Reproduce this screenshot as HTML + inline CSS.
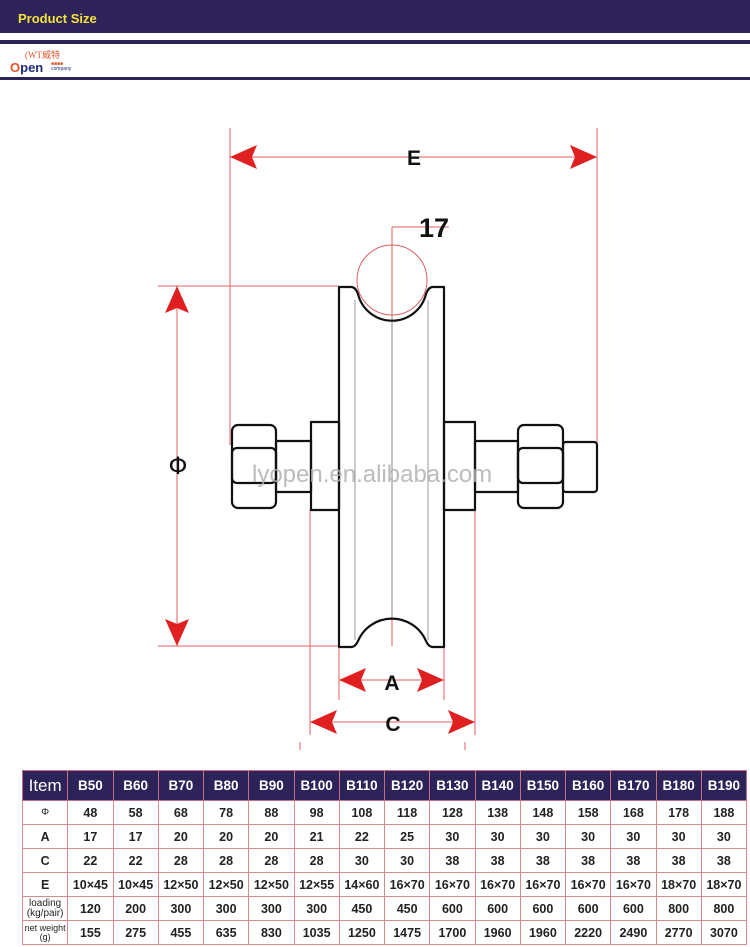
<!DOCTYPE html>
<html><head><meta charset="utf-8"><style>
body{margin:0;width:750px;height:947px;background:#fff;overflow:hidden;position:relative;font-family:"Liberation Sans",Arial,sans-serif}
.band{position:absolute;left:0;width:750px;background:#2e2359}
table{position:absolute;left:22px;top:770px;border-collapse:collapse;width:725px;table-layout:fixed}
td{border:1px solid #d98a8f;text-align:center;font-weight:bold;font-size:12.5px;color:#222;height:23px;padding:0;white-space:nowrap}
tr.h td{background:#2e2359;color:#fff;height:29px;font-size:13.5px;border-color:#c07080}
</style></head><body>
<div class="band" style="top:0;height:33px"></div>
<div style="position:absolute;left:18px;top:11px;color:#f2e33a;font-weight:bold;font-size:13px">Product Size</div>
<div class="band" style="top:40px;height:4px"></div>
<div class="band" style="top:77px;height:3px"></div>
<div style="position:absolute;left:25px;top:48px;color:#e0562a;font-size:9px;font-family:'Liberation Serif',serif">(WT<span style="font-family:'Noto Sans CJK SC',sans-serif">威特</span></div>
<div style="position:absolute;left:10px;top:60px;color:#1e2a7a;font-size:13px;font-weight:bold"><span style="color:#e0562a">O</span>pen</div>
<div style="position:absolute;left:51px;top:62px;color:#e0562a;font-size:5px;line-height:5px">■■■■<br><span style="color:#1e2a7a">company</span></div>
<svg width="750" height="947" style="position:absolute;left:0;top:0">
<defs>
<path id="ar" d="M0,0 L27,-12 L22,0 L27,12 Z" fill="#e02020"/>
</defs>
<g stroke="#e06060" stroke-width="1" fill="none">
<line x1="230" y1="128" x2="230" y2="445"/>
<line x1="597" y1="128" x2="597" y2="445"/>
<line x1="230" y1="157" x2="597" y2="157"/>
<line x1="158" y1="286" x2="339" y2="286"/>
<line x1="158" y1="646" x2="339" y2="646"/>
<line x1="177" y1="286" x2="177" y2="646"/>
<line x1="392" y1="227" x2="392" y2="646"/>
<line x1="392" y1="227" x2="449" y2="227"/>
<circle cx="392" cy="280" r="35"/>
<line x1="310" y1="510" x2="310" y2="735"/>
<line x1="475" y1="510" x2="475" y2="735"/>
<line x1="339" y1="646" x2="339" y2="700"/>
<line x1="444" y1="646" x2="444" y2="700"/>
<line x1="339" y1="680" x2="444" y2="680"/>
<line x1="310" y1="722" x2="475" y2="722"/>
<line x1="300" y1="742" x2="300" y2="750"/>
<line x1="465" y1="742" x2="465" y2="750"/>
</g>
<use href="#ar" transform="translate(230,157)"/>
<use href="#ar" transform="translate(597,157) rotate(180)"/>
<use href="#ar" transform="translate(177,286) rotate(90)"/>
<use href="#ar" transform="translate(177,646) rotate(-90)"/>
<use href="#ar" transform="translate(339,680)"/>
<use href="#ar" transform="translate(444,680) rotate(180)"/>
<use href="#ar" transform="translate(310,722)"/>
<use href="#ar" transform="translate(475,722) rotate(180)"/>
<g stroke="#999" stroke-width="1">
<line x1="355" y1="300" x2="355" y2="640"/>
<line x1="428" y1="300" x2="428" y2="640"/>
<line x1="392" y1="317" x2="392" y2="617" stroke="#888"/>
</g>
<g stroke="#111" stroke-width="2.2" fill="none" stroke-linejoin="round">
<path d="M339,647 L339,287 L352,287 Q356,288 358,294 A35,35 0 0 0 426,294 Q428,288 432,287 L444,287 L444,647 L432,647 Q428,646 426,641 A37,37 0 0 0 358,641 Q356,646 352,647 Z"/>
<rect x="311" y="422" width="28" height="88"/>
<rect x="444" y="422" width="31" height="88"/>
<rect x="276" y="441" width="35" height="51"/>
<rect x="475" y="441" width="43" height="51"/>
<rect x="563" y="442" width="34" height="50" rx="3"/>
<rect x="232" y="425" width="44" height="83" rx="6"/>
<rect x="232" y="448" width="44" height="35" rx="5"/>
<rect x="518" y="425" width="45" height="83" rx="6"/>
<rect x="518" y="448" width="45" height="35" rx="5"/>
</g>
<text x="252" y="482" font-size="24" fill="#b0b0b0" fill-opacity="0.85" font-family="Liberation Sans">lyopen.en.alibaba.com</text>
<g font-family="Liberation Sans" font-weight="bold" fill="#111" text-anchor="middle">
<text x="414" y="165" font-size="21">E</text>
<text x="434" y="237" font-size="27">17</text>
<text x="392" y="690" font-size="21">A</text>
<text x="393" y="731" font-size="21">C</text>
</g>
<text x="178" y="474" font-size="24" text-anchor="middle" fill="#111" font-family="DejaVu Sans">Φ</text>
</svg>
<table>
<tr class="h"><td style="font-weight:normal;font-size:17px">Item</td><td>B50</td><td>B60</td><td>B70</td><td>B80</td><td>B90</td><td>B100</td><td>B110</td><td>B120</td><td>B130</td><td>B140</td><td>B150</td><td>B160</td><td>B170</td><td>B180</td><td>B190</td></tr>
<tr><td style="font-weight:normal;font-size:10px">Φ</td><td>48</td><td>58</td><td>68</td><td>78</td><td>88</td><td>98</td><td>108</td><td>118</td><td>128</td><td>138</td><td>148</td><td>158</td><td>168</td><td>178</td><td>188</td></tr>
<tr><td>A</td><td>17</td><td>17</td><td>20</td><td>20</td><td>20</td><td>21</td><td>22</td><td>25</td><td>30</td><td>30</td><td>30</td><td>30</td><td>30</td><td>30</td><td>30</td></tr>
<tr><td>C</td><td>22</td><td>22</td><td>28</td><td>28</td><td>28</td><td>28</td><td>30</td><td>30</td><td>38</td><td>38</td><td>38</td><td>38</td><td>38</td><td>38</td><td>38</td></tr>
<tr><td>E</td><td>10×45</td><td>10×45</td><td>12×50</td><td>12×50</td><td>12×50</td><td>12×55</td><td>14×60</td><td>16×70</td><td>16×70</td><td>16×70</td><td>16×70</td><td>16×70</td><td>16×70</td><td>18×70</td><td>18×70</td></tr>
<tr><td style="font-weight:normal;font-size:10px;line-height:10px">loading<br>(kg/pair)</td><td>120</td><td>200</td><td>300</td><td>300</td><td>300</td><td>300</td><td>450</td><td>450</td><td>600</td><td>600</td><td>600</td><td>600</td><td>600</td><td>800</td><td>800</td></tr>
<tr><td style="font-weight:normal;font-size:9px;line-height:9px">net weight<br>(g)</td><td>155</td><td>275</td><td>455</td><td>635</td><td>830</td><td>1035</td><td>1250</td><td>1475</td><td>1700</td><td>1960</td><td>1960</td><td>2220</td><td>2490</td><td>2770</td><td>3070</td></tr>
</table>
</body></html>
